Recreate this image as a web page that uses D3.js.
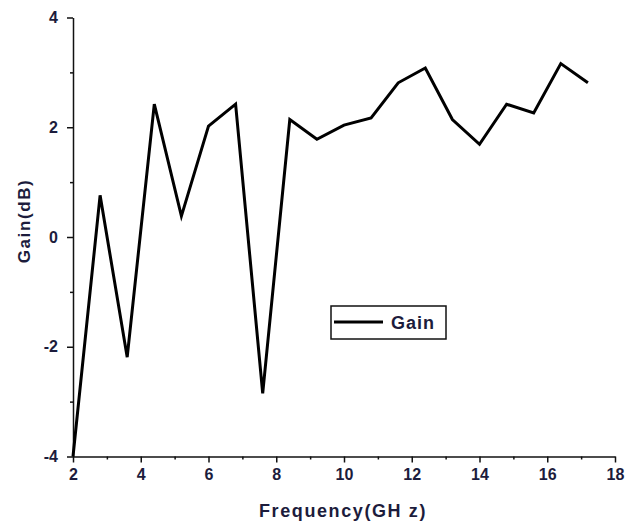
<!DOCTYPE html>
<html>
<head>
<meta charset="utf-8">
<script src="https://cdn.jsdelivr.net/npm/d3@7"></script>
<style>
  body { margin: 0; background: #fff; }
  text { font-family: "Liberation Sans", Arial, sans-serif; font-weight: bold; fill: #1c1c3c; }
</style>
</head>
<body>
<div id="chart"></div>
<script>
// frequency points (GHz) and measured gain (dB)
const freq = [2, 2.8, 3.6, 4.4, 5.2, 6.0, 6.8, 7.6, 8.4, 9.2, 10.0, 10.8, 11.6, 12.4, 13.2, 14.0, 14.8, 15.6, 16.4, 17.2];
const gain = [-4.0, 0.76, -2.19, 2.42, 0.38, 2.02, 2.42, -2.85, 2.14, 1.78, 2.04, 2.17, 2.81, 3.08, 2.14, 1.69, 2.42, 2.26, 3.16, 2.81];
const xTicks = [2, 4, 6, 8, 10, 12, 14, 16, 18];
const yTicks = [-4, -2, 0, 2, 4];
const seriesName = "Gain";

const width = 626, height = 531;
const svg = d3.select("#chart").append("svg")
  .attr("width", width)
  .attr("height", height);

const x = d3.scaleLinear().domain([2, 18]).range([73, 615]);
const y = d3.scaleLinear().domain([-4, 4]).range([456.5, 17.5]);

const plainNum = d => String(d);   // hyphen minus like the original

// minor ticks first, then major axes on top
svg.append("g")
  .attr("transform", "translate(0," + y(-4) + ")")
  .call(d3.axisBottom(x).tickValues(d3.range(3, 18, 2)).tickSize(3).tickFormat(""))
  .call(g => g.select(".domain").remove())
  .selectAll("line").attr("stroke", "#111").attr("stroke-width", 1.5);

svg.append("g")
  .attr("transform", "translate(" + x(2) + ",0)")
  .call(d3.axisLeft(y).tickValues([-3, -1, 1, 3]).tickSize(3).tickFormat(""))
  .call(g => g.select(".domain").remove())
  .selectAll("line").attr("stroke", "#111").attr("stroke-width", 1.5);

const xAxis = svg.append("g")
  .attr("transform", "translate(0," + y(-4) + ")")
  .call(d3.axisBottom(x).tickValues(xTicks).tickFormat(plainNum).tickSize(6).tickPadding(6).tickSizeOuter(0));
xAxis.select(".domain").attr("stroke", "#111").attr("stroke-width", 1.5);
xAxis.selectAll("line").attr("stroke", "#111").attr("stroke-width", 1.5);
xAxis.selectAll("text")
  .style("font-size", "16px")
  .style("font-family", "'Liberation Sans', Arial, sans-serif")
  .style("font-weight", "bold")
  .attr("fill", "#1c1c3c");

const yAxis = svg.append("g")
  .attr("transform", "translate(" + x(2) + ",0)")
  .call(d3.axisLeft(y).tickValues(yTicks).tickFormat(plainNum).tickSize(6).tickPadding(9).tickSizeOuter(0));
yAxis.select(".domain").attr("stroke", "#111").attr("stroke-width", 1.5);
yAxis.selectAll("line").attr("stroke", "#111").attr("stroke-width", 1.5);
yAxis.selectAll("text")
  .style("font-size", "16px")
  .style("font-family", "'Liberation Sans', Arial, sans-serif")
  .style("font-weight", "bold")
  .attr("fill", "#1c1c3c");

// data line
const line = d3.line()
  .x((d, i) => x(freq[i]))
  .y(d => y(d));

svg.append("path")
  .datum(gain)
  .attr("d", line)
  .attr("fill", "none")
  .attr("stroke", "#000")
  .attr("stroke-width", 3)
  .attr("stroke-linejoin", "miter");

// axis titles
svg.append("text")
  .attr("x", 343)
  .attr("y", 517)
  .attr("text-anchor", "middle")
  .style("font-size", "18px")
  .style("letter-spacing", "1.6px")
  .text("Frequency(GH z)");

svg.append("text")
  .attr("transform", "translate(30,221) rotate(-90)")
  .attr("text-anchor", "middle")
  .style("font-size", "17px")
  .style("letter-spacing", "1.6px")
  .text("Gain(dB)");

// legend
const legend = svg.append("g").attr("transform", "translate(331,306)");
legend.append("rect")
  .attr("width", 115)
  .attr("height", 33)
  .attr("fill", "#fff")
  .attr("stroke", "#111")
  .attr("stroke-width", 1.5);
legend.append("line")
  .attr("x1", 3).attr("x2", 52)
  .attr("y1", 16).attr("y2", 16)
  .attr("stroke", "#000")
  .attr("stroke-width", 3);
legend.append("text")
  .attr("x", 60)
  .attr("y", 23)
  .style("font-size", "18px")
  .style("letter-spacing", "1px")
  .text(seriesName);
</script>
</body>
</html>
